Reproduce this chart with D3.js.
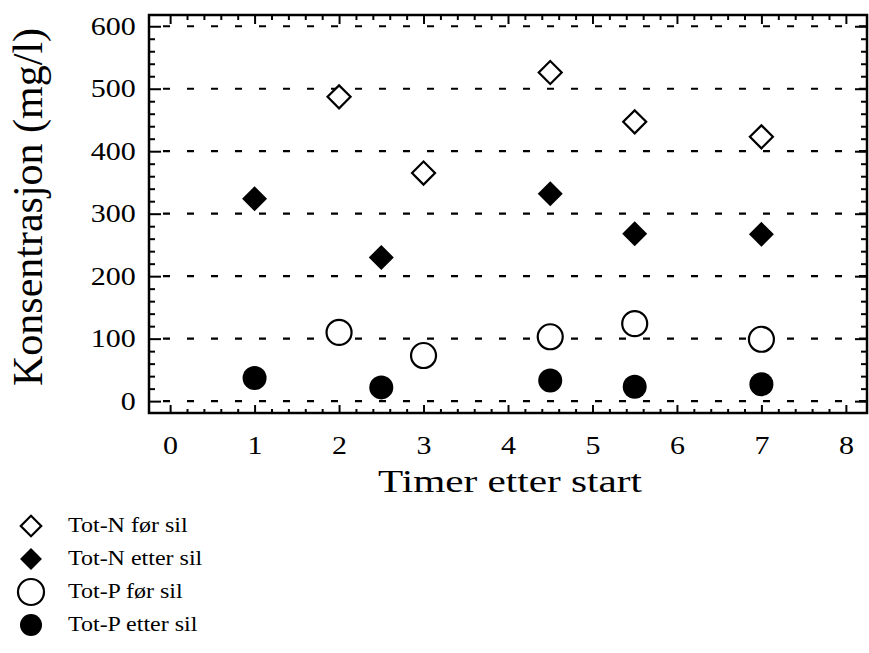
<!DOCTYPE html>
<html>
<head>
<meta charset="utf-8">
<script src="https://cdn.jsdelivr.net/npm/d3@7"></script>
<style>
	body { margin: 0; background: #fff; }
	text { font-family: "Liberation Serif", "Times New Roman", serif; fill: #000; }
</style>
</head>
<body>
<div id="chart-area"></div>
<script>
// data
const totNForX = [2, 3, 4.5, 5.5, 7];
const totNFor = [487, 365, 526, 447, 423];
const totNEtterX = [1, 2.5, 4.5, 5.5, 7];
const totNEtter = [324, 230, 332, 268, 267];
const totPForX = [2, 3, 4.5, 5.5, 7];
const totPFor = [110, 73, 103, 124, 99];
const totPEtterX = [1, 2.5, 4.5, 5.5, 7];
const totPEtter = [37, 22, 33, 23, 27];

const xTicks = [0, 1, 2, 3, 4, 5, 6, 7, 8];
const yTicks = [0, 100, 200, 300, 400, 500, 600];
const legendLabels = ["Tot-N før sil", "Tot-N etter sil", "Tot-P før sil", "Tot-P etter sil"];

const series = [
	{ xs: totNForX, ys: totNFor, shape: "diamond", filled: false },
	{ xs: totNEtterX, ys: totNEtter, shape: "diamond", filled: true },
	{ xs: totPForX, ys: totPFor, shape: "circle", filled: false },
	{ xs: totPEtterX, ys: totPEtter, shape: "circle", filled: true }
];

const W = 869, H = 653;
const pLeft = 149, pRight = 867, pTop = 15, pBottom = 413;

let svg = d3.select("#chart-area").append("svg")
	.attr("width", W)
	.attr("height", H);

let x = d3.scaleLinear().domain([-0.25, 8.25]).range([pLeft, pRight]);
let y = d3.scaleLinear().domain([-19, 618]).range([pBottom, pTop]);

// dashed grid
svg.append("g")
	.selectAll("line")
	.data(yTicks)
	.enter()
	.append("line")
	.attr("x1", pLeft)
	.attr("x2", pRight)
	.attr("y1", d => y(d))
	.attr("y2", d => y(d))
	.attr("stroke", "#000")
	.attr("stroke-width", 2.2)
	.attr("stroke-dasharray", "7,17")
	.attr("stroke-dashoffset", 10);

// minor tick values
let xMinor = d3.range(0, 41).map(i => i * 0.2).filter(v => Math.abs(v - Math.round(v)) > 0.01);
let yMinor = d3.range(0, 31).map(i => i * 20).filter(v => v % 100 !== 0);

function styleAxis(g) {
	g.select(".domain").remove();
	g.selectAll("line").attr("stroke", "#000").attr("stroke-width", 2);
}

// bottom
svg.append("g")
	.attr("transform", "translate(0," + pBottom + ")")
	.call(d3.axisBottom(x).tickValues(xTicks).tickSize(-8).tickPadding(23))
	.call(styleAxis)
	.call(g => g.selectAll("text")
		.attr("font-size", 25)
		.attr("font-family", "Liberation Serif, serif")
		.attr("transform", "scale(1.2,1)"));
svg.append("g")
	.attr("transform", "translate(0," + pBottom + ")")
	.call(d3.axisBottom(x).tickValues(xMinor).tickSize(-4).tickFormat(""))
	.call(styleAxis);

// top
svg.append("g")
	.attr("transform", "translate(0," + pTop + ")")
	.call(d3.axisTop(x).tickValues(xTicks).tickSize(-9).tickFormat(""))
	.call(styleAxis);
svg.append("g")
	.attr("transform", "translate(0," + pTop + ")")
	.call(d3.axisTop(x).tickValues(xMinor).tickSize(-5).tickFormat(""))
	.call(styleAxis);

// left
svg.append("g")
	.attr("transform", "translate(" + pLeft + ",0)")
	.call(d3.axisLeft(y).tickValues(yTicks).tickSize(-12).tickPadding(11))
	.call(styleAxis)
	.call(g => g.selectAll("text")
		.attr("font-size", 25)
		.attr("font-family", "Liberation Serif, serif")
		.attr("transform", "scale(1.2,1)"));
svg.append("g")
	.attr("transform", "translate(" + pLeft + ",0)")
	.call(d3.axisLeft(y).tickValues(yMinor).tickSize(-6).tickFormat(""))
	.call(styleAxis);

// right
svg.append("g")
	.attr("transform", "translate(" + pRight + ",0)")
	.call(d3.axisRight(y).tickValues(yTicks).tickSize(-12).tickFormat(""))
	.call(styleAxis);
svg.append("g")
	.attr("transform", "translate(" + pRight + ",0)")
	.call(d3.axisRight(y).tickValues(yMinor).tickSize(-6).tickFormat(""))
	.call(styleAxis);

// frame
svg.append("rect")
	.attr("x", pLeft)
	.attr("y", pTop)
	.attr("width", pRight - pLeft)
	.attr("height", pBottom - pTop)
	.attr("fill", "none")
	.attr("stroke", "#000")
	.attr("stroke-width", 2.5);

// markers
function markerPath(shape, filled) {
	if (shape === "diamond") {
		return d3.symbol(d3.symbolSquare, filled ? 312 : 265)();
	}
	let r = filled ? 12 : 12.5;
	return d3.symbol(d3.symbolCircle, Math.PI * r * r)();
}

series.forEach(s => {
	svg.append("g")
		.selectAll("path")
		.data(s.xs.map((v, i) => [v, s.ys[i]]))
		.enter()
		.append("path")
		.attr("d", markerPath(s.shape, s.filled))
		.attr("transform", d => "translate(" + x(d[0]) + "," + y(d[1]) + ")" + (s.shape === "diamond" ? " rotate(45)" : ""))
		.attr("fill", s.filled ? "#000" : "#fff")
		.attr("stroke", "#000")
		.attr("stroke-width", s.filled ? 0 : 2.2);
});

// axis titles
svg.append("text")
	.attr("transform", "translate(42,207) rotate(-90)")
	.attr("text-anchor", "middle")
	.attr("font-size", 42)
	.text("Konsentrasjon (mg/l)");

svg.append("text")
	.attr("x", 378)
	.attr("y", 492)
	.attr("font-size", 32)
	.attr("textLength", 264)
	.attr("lengthAdjust", "spacingAndGlyphs")
	.text("Timer etter start");

// legend
let legendY = [526, 559, 592, 625];
let legendSize = [{ d: 210 }, { d: 240 }, { r: 13 }, { r: 11 }];
let legend = svg.append("g");
series.forEach((s, i) => {
	let g = legend.append("g").attr("transform", "translate(31," + legendY[i] + ")");
	if (s.shape === "diamond") {
		g.append("path")
			.attr("d", d3.symbol(d3.symbolSquare, legendSize[i].d)())
			.attr("transform", "rotate(45)")
			.attr("fill", s.filled ? "#000" : "#fff")
			.attr("stroke", "#000")
			.attr("stroke-width", s.filled ? 0 : 2.2);
	} else {
		g.append("path")
			.attr("d", d3.symbol(d3.symbolCircle, Math.PI * legendSize[i].r * legendSize[i].r)())
			.attr("fill", s.filled ? "#000" : "#fff")
			.attr("stroke", "#000")
			.attr("stroke-width", s.filled ? 0 : 2.2);
	}
	legend.append("text")
		.attr("transform", "translate(68," + (legendY[i] + 6) + ") scale(1.2,1)")
		.attr("font-size", 20)
		.text(legendLabels[i]);
});
</script>
</body>
</html>
